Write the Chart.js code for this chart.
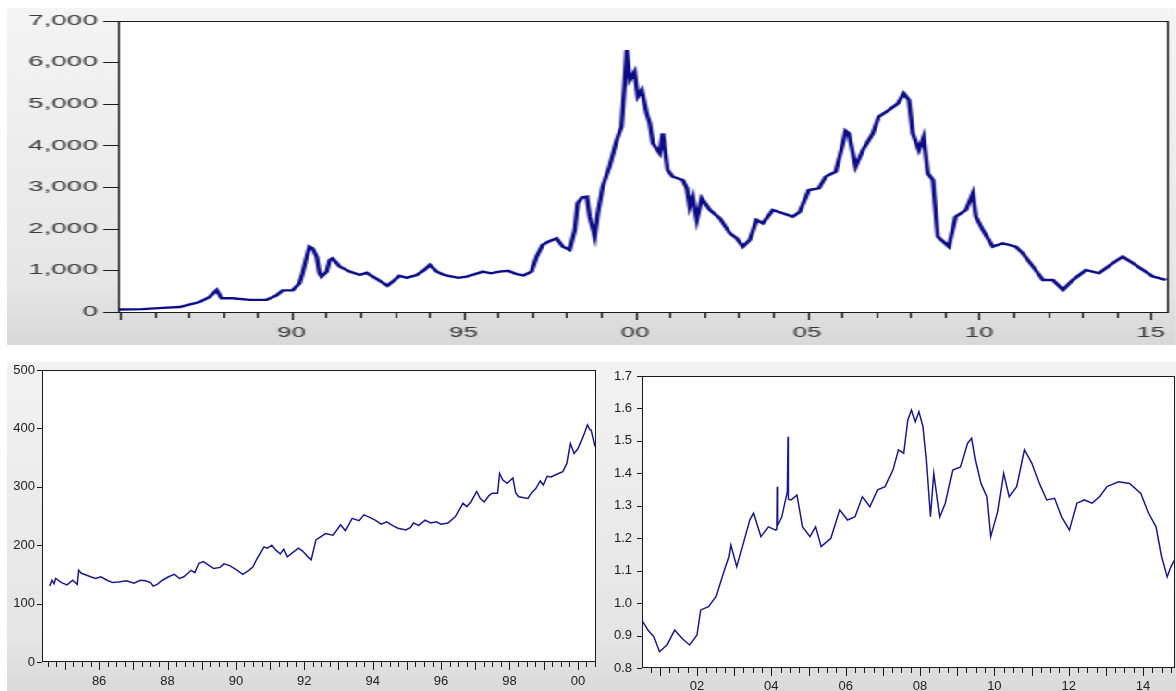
<!DOCTYPE html>
<html>
<head>
<meta charset="utf-8">
<script src="https://cdn.jsdelivr.net/npm/chart.js@4.4.1/dist/chart.umd.min.js"></script>
<style>
  html, body { margin: 0; padding: 0; background: #fff; }
  body { width: 1176px; height: 691px; position: relative; overflow: hidden; }
  .panel { position: absolute; }
  /* the wide index plot is drawn narrow and stretched sideways */
  #topPanel { left: 7px; top: 8px; width: 632px; height: 337px; transform: scaleX(1.85); transform-origin: 0 0;
              background: linear-gradient(#f4f4f4, #e6e6e6 80%, #d8d8d8); }
  #bottomBg { left: 7px; top: 362px; width: 1169px; height: 329px; background: linear-gradient(#f2f2f2, #e4e4e4 85%, #dadada); }
  #leftPanel { left: 7px; top: 362px; width: 596px; height: 329px; }
  #rightPanel { left: 603px; top: 362px; width: 573px; height: 329px; }
</style>
</head>
<body>
<div class="panel" id="topPanel"><canvas id="indexChart"></canvas></div>
<div class="panel" id="bottomBg"></div>
<div class="panel" id="leftPanel"><canvas id="leftChart"></canvas></div>
<div class="panel" id="rightPanel"><canvas id="rightChart"></canvas></div>
<script>
// index level, 1985-2015
const indexYears = [1985.00, 1985.66, 1986.25, 1986.74, 1987.32, 1987.61, 1987.82, 1987.96, 1988.28, 1988.78,
  1989.27, 1989.56, 1989.74, 1990.03, 1990.23, 1990.32, 1990.44, 1990.52, 1990.61, 1990.73,
  1990.81, 1990.87, 1991.02, 1991.11, 1991.19, 1991.40, 1991.69, 1991.98, 1992.18, 1992.47,
  1992.79, 1993.00, 1993.14, 1993.35, 1993.64, 1993.85, 1994.02, 1994.22, 1994.40, 1994.60,
  1994.85, 1995.09, 1995.30, 1995.56, 1995.80, 1996.05, 1996.30, 1996.55, 1996.75, 1996.98,
  1997.13, 1997.30, 1997.50, 1997.71, 1997.89, 1998.09, 1998.24, 1998.32, 1998.45, 1998.59,
  1998.67, 1998.82, 1998.91, 1999.05, 1999.25, 1999.46, 1999.60, 1999.69, 1999.75, 1999.84,
  1999.98, 2000.07, 2000.19, 2000.33, 2000.42, 2000.51, 2000.71, 2000.80, 2000.94, 2001.09,
  2001.38, 2001.50, 2001.58, 2001.67, 2001.79, 2001.93, 2002.17, 2002.46, 2002.75, 2002.95,
  2003.13, 2003.33, 2003.53, 2003.71, 2004.00, 2004.29, 2004.58, 2004.78, 2005.05, 2005.34,
  2005.54, 2005.83, 2006.04, 2006.12, 2006.21, 2006.41, 2006.62, 2006.91, 2007.08, 2007.38,
  2007.64, 2007.81, 2007.96, 2008.07, 2008.25, 2008.39, 2008.51, 2008.66, 2008.74, 2008.80,
  2009.12, 2009.32, 2009.62, 2009.82, 2009.91, 2010.11, 2010.40, 2010.69, 2011.07, 2011.27,
  2011.57, 2011.86, 2012.15, 2012.44, 2012.73, 2013.11, 2013.49, 2013.89, 2014.18, 2014.48,
  2014.77, 2015.06, 2015.44];
const indexValues = [60, 70, 100, 120, 240, 360, 530, 330, 330, 290,
  290, 400, 520, 520, 690, 930, 1330, 1570, 1530, 1330,
  930, 850, 970, 1250, 1290, 1090, 970, 890, 940, 800,
  630, 770, 870, 820, 890, 1000, 1130, 970, 900, 860,
  820, 850, 900, 970, 930, 970, 990, 910, 880, 970,
  1330, 1610, 1700, 1770, 1570, 1490, 1970, 2610, 2750, 2770,
  2290, 1810, 2370, 3010, 3490, 4130, 4450, 5490, 6290, 5570,
  5770, 5170, 5330, 4770, 4530, 4050, 3810, 4290, 3410, 3250,
  3170, 2970, 2530, 2770, 2210, 2730, 2450, 2250, 1890, 1770,
  1570, 1730, 2210, 2130, 2450, 2370, 2290, 2400, 2930, 2970,
  3250, 3370, 4050, 4350, 4290, 3490, 3890, 4290, 4690, 4850,
  5010, 5250, 5090, 4290, 3890, 4210, 3330, 3170, 2370, 1810,
  1570, 2290, 2450, 2850, 2290, 1970, 1570, 1650, 1570, 1410,
  1090, 770, 770, 530, 770, 1010, 930, 1170, 1330, 1170,
  1010, 850, 770];

// first sample, 1984-2000
const leftYears = [1984.56, 1984.62, 1984.68, 1984.73, 1984.90, 1985.06, 1985.23, 1985.36, 1985.40, 1985.48,
  1985.62, 1985.75, 1985.90, 1986.05, 1986.23, 1986.40, 1986.57, 1986.80, 1987.02, 1987.20,
  1987.36, 1987.50, 1987.58, 1987.70, 1987.85, 1988.03, 1988.20, 1988.35, 1988.48, 1988.69,
  1988.80, 1988.92, 1989.05, 1989.20, 1989.35, 1989.54, 1989.65, 1989.82, 1990.04, 1990.20,
  1990.38, 1990.50, 1990.60, 1990.82, 1990.92, 1991.05, 1991.16, 1991.30, 1991.40, 1991.50,
  1991.65, 1991.83, 1991.95, 1992.11, 1992.20, 1992.34, 1992.50, 1992.62, 1992.84, 1993.06,
  1993.20, 1993.40, 1993.60, 1993.74, 1993.90, 1994.07, 1994.25, 1994.41, 1994.60, 1994.74,
  1994.97, 1995.10, 1995.19, 1995.35, 1995.53, 1995.70, 1995.86, 1996.00, 1996.20, 1996.42,
  1996.64, 1996.75, 1996.87, 1997.04, 1997.15, 1997.26, 1997.40, 1997.49, 1997.65, 1997.71,
  1997.80, 1997.93, 1998.10, 1998.18, 1998.27, 1998.54, 1998.65, 1998.77, 1998.90, 1998.99,
  1999.10, 1999.22, 1999.40, 1999.56, 1999.68, 1999.78, 1999.89, 2000.00, 2000.11, 2000.20,
  2000.28, 2000.35, 2000.39, 2000.45, 2000.50];
const leftValues = [130, 140, 134, 143, 136, 132, 140, 133, 157, 152,
  149, 146, 143, 146, 140, 136, 137, 139, 135, 140,
  139, 136, 130, 133, 140, 146, 150, 143, 146, 157,
  153, 169, 172, 166, 160, 162, 168, 165, 157, 150,
  157, 163, 175, 197, 195, 200, 192, 185, 193, 180,
  187, 195, 190, 180, 175, 209, 215, 220, 217, 235,
  225, 246, 242, 252, 248, 243, 236, 240, 233, 229,
  226, 230, 238, 234, 243, 238, 240, 236, 238, 249,
  272, 266, 274, 292, 280, 274, 285, 289, 289, 323,
  312, 306, 315, 290, 283, 280, 290, 297, 310, 303,
  318, 317, 322, 326, 340, 374, 357, 365, 380, 393,
  406, 398, 397, 382, 369];

// second sample, 2000-2014
const rightYears = [2000.54, 2000.68, 2000.84, 2000.99, 2001.19, 2001.40, 2001.60, 2001.80, 2002.00, 2002.10,
  2002.31, 2002.51, 2002.71, 2002.86, 2002.91, 2003.07, 2003.22, 2003.42, 2003.52, 2003.72,
  2003.92, 2004.12, 2004.15, 2004.16, 2004.17, 2004.28, 2004.43, 2004.45, 2004.46, 2004.53,
  2004.69, 2004.84, 2005.04, 2005.19, 2005.34, 2005.60, 2005.84, 2006.05, 2006.25, 2006.45,
  2006.65, 2006.86, 2007.06, 2007.27, 2007.42, 2007.56, 2007.67, 2007.77, 2007.87, 2007.97,
  2008.08, 2008.17, 2008.28, 2008.37, 2008.53, 2008.68, 2008.88, 2009.09, 2009.28, 2009.39,
  2009.49, 2009.64, 2009.80, 2009.90, 2010.09, 2010.25, 2010.40, 2010.60, 2010.81, 2011.01,
  2011.21, 2011.41, 2011.62, 2011.81, 2012.02, 2012.22, 2012.42, 2012.63, 2012.83, 2013.03,
  2013.34, 2013.64, 2013.94, 2014.15, 2014.35, 2014.50, 2014.65, 2014.75, 2014.85];
const rightValues = [0.943, 0.917, 0.896, 0.850, 0.871, 0.917, 0.891, 0.871, 0.902, 0.979,
  0.989, 1.020, 1.092, 1.143, 1.179, 1.112, 1.174, 1.256, 1.277, 1.205,
  1.235, 1.225, 1.228, 1.359, 1.240, 1.266, 1.343, 1.513, 1.320, 1.318,
  1.333, 1.235, 1.205, 1.235, 1.174, 1.200, 1.287, 1.256, 1.266, 1.328,
  1.297, 1.349, 1.359, 1.410, 1.472, 1.462, 1.564, 1.595, 1.559, 1.590,
  1.544, 1.441, 1.266, 1.400, 1.266, 1.308, 1.410, 1.420, 1.493, 1.508,
  1.441, 1.369, 1.328, 1.205, 1.282, 1.400, 1.328, 1.359, 1.472, 1.431,
  1.369, 1.318, 1.323, 1.266, 1.225, 1.308, 1.318, 1.308, 1.328, 1.359,
  1.374, 1.369, 1.338, 1.277, 1.235, 1.143, 1.081, 1.112, 1.133];

// axis ticks
const indexYTicks = [0, 1000, 2000, 3000, 4000, 5000, 6000, 7000];
const indexLabelYears = [1990, 1995, 2000, 2005, 2010, 2015];
const leftYTicks = [0, 100, 200, 300, 400, 500];
const leftLabelYears = [1986, 1988, 1990, 1992, 1994, 1996, 1998, 2000];
const rightYTicks = [0.8, 0.9, 1.0, 1.1, 1.2, 1.3, 1.4, 1.5, 1.6, 1.7];
const rightLabelYears = [2002, 2004, 2006, 2008, 2010, 2012, 2014];

// white plot box, black frame and outside tick marks
const eviewsFrame = {
  id: 'eviewsFrame',
  beforeDatasetsDraw(chart) {
    const a = chart.chartArea, ctx = chart.ctx;
    ctx.save();
    ctx.fillStyle = '#ffffff';
    ctx.fillRect(a.left, a.top, a.right - a.left, a.bottom - a.top);
    ctx.restore();
  },
  afterDatasetsDraw(chart, args, opts) {
    const a = chart.chartArea, ctx = chart.ctx;
    ctx.save();
    ctx.strokeStyle = '#1b1b1b';
    ctx.lineWidth = 1;
    ctx.strokeRect(Math.round(a.left) + 0.5, Math.round(a.top) + 0.5,
      Math.round(a.right - a.left) - 1, Math.round(a.bottom - a.top) - 1);
    ctx.beginPath();
    const ys = chart.scales.y;
    ys.ticks.forEach(t => {
      const p = Math.round(ys.getPixelForValue(t.value)) + 0.5;
      ctx.moveTo(a.left - opts.yLen, p);
      ctx.lineTo(a.left, p);
    });
    const xs = chart.scales.x;
    xs.ticks.forEach(t => {
      const p = Math.round(xs.getPixelForValue(t.value)) + 0.5;
      const r = t.value / opts.majorStep;
      const len = Math.abs(r - Math.round(r)) < 1e-6 ? opts.majorLen : opts.minorLen;
      ctx.moveTo(p, a.bottom);
      ctx.lineTo(p, a.bottom + len);
    });
    ctx.stroke();
    ctx.restore();
  }
};

function yearLabel(labelYears) {
  return v => labelYears.includes(v) ? String(v % 100).padStart(2, '0') : '';
}

function makeChart(id, cfg) {
  const points = cfg.years.map((y, i) => ({ x: y, y: cfg.values[i] }));
  return new Chart(document.getElementById(id), {
    type: 'line',
    data: {
      datasets: [{
        data: points,
        borderColor: cfg.color,
        borderWidth: cfg.lineWidth,
        pointRadius: 0,
        tension: 0,
        fill: false
      }]
    },
    options: {
      responsive: true,
      maintainAspectRatio: false,
      animation: false,
      events: [],
      layout: { padding: cfg.padding },
      plugins: {
        legend: { display: false },
        tooltip: { enabled: false },
        eviewsFrame: cfg.frame
      },
      scales: {
        x: {
          type: 'linear',
          min: cfg.xMin,
          max: cfg.xMax,
          grid: { display: false, drawTicks: false },
          border: { display: false },
          afterBuildTicks: s => { s.ticks = cfg.xTicks.map(v => ({ value: v })); },
          afterFit: s => { s.height = cfg.xHeight; s.paddingLeft = 0; s.paddingRight = 0; },
          ticks: {
            autoSkip: false,
            maxRotation: 0,
            padding: cfg.xPad,
            color: cfg.textColor,
            font: cfg.xFont,
            callback: yearLabel(cfg.labelYears)
          }
        },
        y: {
          min: cfg.yTicks[0],
          max: cfg.yTicks[cfg.yTicks.length - 1],
          grid: { display: false, drawTicks: false },
          border: { display: false },
          afterBuildTicks: s => { s.ticks = cfg.yTicks.map(v => ({ value: v })); },
          afterFit: s => { s.width = cfg.yWidth; s.paddingTop = 0; s.paddingBottom = 0; },
          ticks: {
            padding: cfg.yPad,
            color: cfg.textColor,
            font: cfg.yFont,
            callback: cfg.yFormat
          }
        }
      }
    },
    plugins: [eviewsFrame]
  });
}

const yearTicks = [];
for (let y = 1985; y <= 2015; y++) yearTicks.push(y);
const leftQuarters = [];
for (let q = 1984 * 4 + 2; q <= 2000 * 4 + 2; q++) leftQuarters.push(q / 4);
const rightQuarters = [];
for (let q = 2000 * 4 + 3; q <= 2014 * 4 + 3; q++) rightQuarters.push(q / 4);

makeChart('indexChart', {
  years: indexYears, values: indexValues, color: '#0c0c88', lineWidth: 2.4,
  padding: { top: 12.5, right: 4.4, left: 0, bottom: 0 },
  xMin: 1984.95, xMax: 2015.5, xTicks: yearTicks, labelYears: indexLabelYears,
  xHeight: 33, xPad: 13, xFont: { family: 'Liberation Sans', size: 14 },
  yTicks: indexYTicks, yWidth: 60, yPad: 11, yFont: { family: 'Liberation Sans', size: 15 },
  yFormat: v => v.toLocaleString('en-US'),
  textColor: '#3a3a3a',
  frame: { yLen: 8, majorStep: 5, majorLen: 8, minorLen: 6 }
});

makeChart('leftChart', {
  years: leftYears, values: leftValues, color: '#1a1a8c', lineWidth: 1.5,
  padding: { top: 8, right: 7, left: 0, bottom: 0 },
  xMin: 1984.33, xMax: 2000.53, xTicks: leftQuarters, labelYears: leftLabelYears,
  xHeight: 29, xPad: 12, xFont: { family: 'Liberation Sans', size: 13 },
  yTicks: leftYTicks, yWidth: 35, yPad: 7, yFont: { family: 'Liberation Sans', size: 13 },
  yFormat: v => String(v),
  textColor: '#222',
  frame: { yLen: 5, majorStep: 1, majorLen: 8, minorLen: 5 }
});

makeChart('rightChart', {
  years: rightYears, values: rightValues, color: '#1a1a8c', lineWidth: 1.5,
  padding: { top: 14, right: 1, left: 0, bottom: 0 },
  xMin: 2000.52, xMax: 2014.86, xTicks: rightQuarters, labelYears: rightLabelYears,
  xHeight: 23, xPad: 11, xFont: { family: 'Liberation Sans', size: 13 },
  yTicks: rightYTicks, yWidth: 39, yPad: 10, yFont: { family: 'Liberation Sans', size: 13 },
  yFormat: v => v.toFixed(1),
  textColor: '#222',
  frame: { yLen: 5, majorStep: 1, majorLen: 8, minorLen: 5 }
});
</script>
</body>
</html>
